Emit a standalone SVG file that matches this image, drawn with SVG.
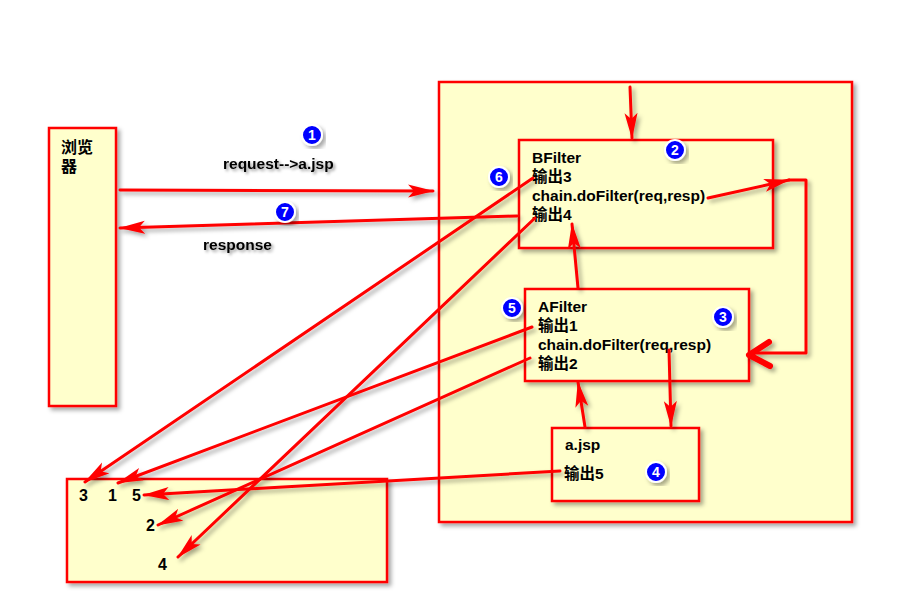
<svg xmlns="http://www.w3.org/2000/svg" width="922" height="600" viewBox="0 0 922 600">
<defs>
<filter id="sh" x="-20%" y="-20%" width="140%" height="140%">
<feDropShadow dx="3" dy="3" stdDeviation="2" flood-color="#000" flood-opacity="0.35"/>
</filter>
<filter id="tsh" x="-20%" y="-40%" width="140%" height="180%">
<feDropShadow dx="2" dy="2" stdDeviation="1.5" flood-color="#000" flood-opacity="0.4"/>
</filter>
<marker id="ah" markerUnits="userSpaceOnUse" markerWidth="26" markerHeight="14" refX="25" refY="7" orient="auto">
<path d="M0,0.5 L26,7 L0,13.5 L6,7 Z" fill="#ff0000"/>
</marker>
</defs>
<style>
.box{fill:#ffffcc;stroke:#ff0000;stroke-width:2.5;filter:url(#sh)}
.t{font-family:"Liberation Sans","Noto Sans CJK SC",sans-serif;font-weight:bold;font-size:15.5px;fill:#000}
.n{font-size:16px}
.c{fill:none;stroke:#ff0000;stroke-width:3;stroke-linecap:round;stroke-linejoin:round}
.a{marker-end:url(#ah)}
.bd circle{fill:#0000ff;stroke:#fff;stroke-width:2;filter:url(#sh)}
.bd text{font-family:"Liberation Sans",sans-serif;font-weight:bold;font-size:14px;fill:#fff;text-anchor:middle}
</style>
<rect width="922" height="600" fill="#fff"/>

<g id="browser">
<rect class="box" x="49" y="128" width="67" height="278"/>
<text class="t" x="61" y="153" style="font-size:16px">浏览</text>
<text class="t" x="61" y="172" style="font-size:16px">器</text>
</g>

<g id="container">
<rect class="box" x="439" y="82" width="413" height="440"/>
</g>

<g id="bfilter">
<rect class="box" x="519" y="140" width="254" height="108"/>
<text class="t" x="532" y="163">BFilter</text>
<text class="t" x="532" y="182">输出3</text>
<text class="t" x="532" y="201">chain.doFilter(req,resp)</text>
<text class="t" x="532" y="220">输出4</text>
</g>

<g id="afilter">
<rect class="box" x="525" y="289" width="224" height="92"/>
<text class="t" x="538" y="312">AFilter</text>
<text class="t" x="538" y="331">输出1</text>
<text class="t" x="538" y="350">chain.doFilter(req,resp)</text>
<text class="t" x="538" y="369">输出2</text>
</g>

<g id="ajsp">
<rect class="box" x="552" y="428" width="147" height="73"/>
<text class="t" x="565" y="450">a.jsp</text>
<text class="t" x="564" y="479">输出5</text>
</g>

<g id="output">
<rect class="box" x="67" y="479" width="320" height="103"/>
<text class="t n" x="79" y="501">3</text>
<text class="t n" x="108" y="501">1</text>
<text class="t n" x="132" y="501">5</text>
<text class="t n" x="146" y="531">2</text>
<text class="t n" x="158" y="570">4</text>
</g>

<g id="labels" filter="url(#tsh)">
<text class="t" x="223" y="169">request--&gt;a.jsp</text>
<text class="t" x="203" y="250">response</text>
</g>

<g id="connectors" filter="url(#sh)">
<line class="c a" x1="120" y1="190" x2="433" y2="191"/>
<line class="c a" x1="517" y1="216" x2="120" y2="228"/>
<line class="c a" x1="630" y1="87" x2="632" y2="138"/>
<line class="c a" x1="708" y1="198" x2="789" y2="180"/>
<polyline class="c" points="789,180 806,180 806,353 752,353"/>
<polyline class="c" points="769,342 749,355 770,366" style="stroke-width:6"/>
<line class="c a" x1="578" y1="288" x2="572" y2="224"/>
<line class="c a" x1="669" y1="350" x2="671" y2="426"/>
<line class="c a" x1="585" y1="427" x2="578" y2="382"/>
<line class="c a" x1="560" y1="471" x2="144" y2="495"/>
<line class="c a" x1="532" y1="327" x2="118" y2="483"/>
<line class="c a" x1="530" y1="358" x2="158" y2="525"/>
<line class="c a" x1="533" y1="178" x2="85" y2="482"/>
<line class="c a" x1="535" y1="218" x2="178" y2="557"/>
</g>

<g id="badges" class="bd">
<g id="b1"><circle cx="312" cy="135" r="10"/><text x="312" y="140">1</text></g>
<g id="b2"><circle cx="675" cy="150" r="10"/><text x="675" y="155">2</text></g>
<g id="b3"><circle cx="723" cy="317" r="10"/><text x="723" y="322">3</text></g>
<g id="b4"><circle cx="656" cy="472" r="10"/><text x="656" y="477">4</text></g>
<g id="b5"><circle cx="512" cy="308" r="10"/><text x="512" y="313">5</text></g>
<g id="b6"><circle cx="499" cy="177" r="10"/><text x="499" y="182">6</text></g>
<g id="b7"><circle cx="285" cy="212" r="10"/><text x="285" y="217">7</text></g>
</g>
</svg>
